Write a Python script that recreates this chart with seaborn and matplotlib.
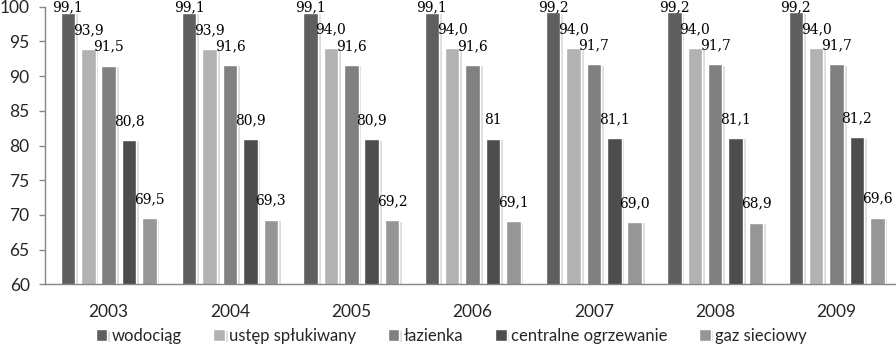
import matplotlib
matplotlib.use("Agg")
import matplotlib.pyplot as plt
import matplotlib.patheffects as pe
import seaborn as sns
import pandas as pd

years = ["2003", "2004", "2005", "2006", "2007", "2008", "2009"]
series = ["wodociąg", "ustęp spłukiwany", "łazienka", "centralne ogrzewanie", "gaz sieciowy"]
wodociag = [99.1, 99.1, 99.1, 99.1, 99.2, 99.2, 99.2]
ustep = [93.9, 93.9, 94.0, 94.0, 94.0, 94.0, 94.0]
lazienka = [91.5, 91.6, 91.6, 91.6, 91.7, 91.7, 91.7]
centralne = [80.8, 80.9, 80.9, 81.0, 81.1, 81.1, 81.2]
gaz = [69.5, 69.3, 69.2, 69.1, 69.0, 68.9, 69.6]
labels_wodociag = ["99,1", "99,1", "99,1", "99,1", "99,2", "99,2", "99,2"]
labels_ustep = ["93,9", "93,9", "94,0", "94,0", "94,0", "94,0", "94,0"]
labels_lazienka = ["91,5", "91,6", "91,6", "91,6", "91,7", "91,7", "91,7"]
labels_centralne = ["80,8", "80,9", "80,9", "81", "81,1", "81,1", "81,2"]
labels_gaz = ["69,5", "69,3", "69,2", "69,1", "69,0", "68,9", "69,6"]
colors = ["#5f5f5f", "#b2b2b2", "#808080", "#4d4d4d", "#969696"]

all_vals = [wodociag, ustep, lazienka, centralne, gaz]
all_labels = [labels_wodociag, labels_ustep, labels_lazienka, labels_centralne, labels_gaz]

rows = []
for s, vals in zip(series, all_vals):
    for y, v in zip(years, vals):
        rows.append({"rok": y, "seria": s, "wartosc": v})
df = pd.DataFrame(rows)

sns.set_style("white")
plt.rcParams["font.family"] = ["Lato", "DejaVu Sans"]

fig = plt.figure(figsize=(8.96, 3.45), dpi=100)
W, H = 896, 345
ax = fig.add_axes([45 / W, 1 - 284.3 / H, (W - 45) / W, (284.3 - 6.7) / H])

sns.barplot(data=df, x="rok", y="wartosc", hue="seria", hue_order=series,
            palette=colors, width=0.84, gap=0.29, ax=ax, saturation=1,
            legend=True, errorbar=None)

for patch in ax.patches:
    patch.set_path_effects([pe.SimplePatchShadow(offset=(2, -1), shadow_rgbFace="#bdbdbd", alpha=0.5), pe.Normal()])

for cont, labs in zip(ax.containers, all_labels):
    for bar, lab in zip(cont, labs):
        v = bar.get_height()
        xc = bar.get_x() + bar.get_width() / 2
        ax.text(xc, min(v + 2.74, 99.95), lab, ha="center", va="center",
                fontsize=10, family=["DejaVu Serif"], color="black", clip_on=False)

ax.set_ylim(60, 100)
ax.set_yticks(range(60, 101, 5))
ax.set_xlim(-0.525, 6.49)
ax.set_xlabel("")
ax.set_ylabel("")
for side in ["top", "right"]:
    ax.spines[side].set_visible(False)
for side in ["left", "bottom"]:
    ax.spines[side].set_color("#868686")
    ax.spines[side].set_linewidth(1)
ax.tick_params(axis="y", left=True, length=4, width=1, color="#868686", pad=7, labelsize=12.5)
ax.tick_params(axis="x", bottom=False, length=0, pad=14, labelsize=12.5)

handles, labs = ax.get_legend_handles_labels()
ax.legend_.remove()
fig.legend(handles, labs, loc="center", bbox_to_anchor=(451 / W, 1 - 336 / H),
           ncol=5, frameon=False, fontsize=12, handlelength=0.7, handleheight=0.7,
           handletextpad=0.25, columnspacing=1.9, borderpad=0.1)

fig.savefig("out.png", dpi=100)
